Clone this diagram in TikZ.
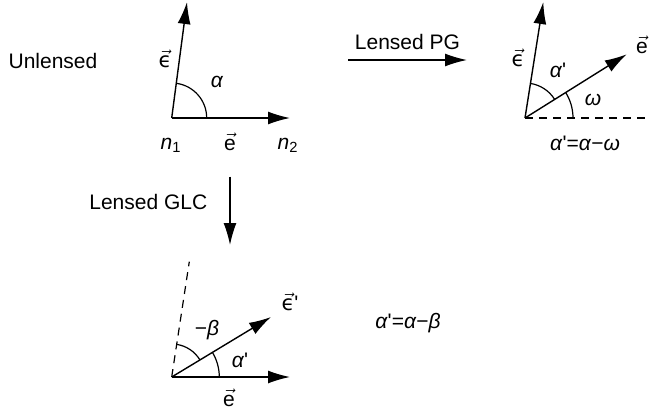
\documentclass[tikz,border=0pt]{standalone}
\usepackage{amsmath}
\usepackage{fontspec}
\setmainfont{Liberation Sans}
\newfontfamily\dejavu{DejaVu Sans}
\usetikzlibrary{arrows.meta,calc}
\newcommand{\vecl}[1]{\ensuremath{\vec{\mbox{#1}}}}
\newcommand{\veps}{{\dejavu ϵ}}
\newcommand{\gr}[1]{\textit{#1}}
\newcommand{\pr}{\textquotesingle}

\begin{document}
\begin{tikzpicture}[
  x=0.5pt, y=0.5pt,
  every node/.style={font=\fontsize{10.5}{12}\selectfont, inner sep=1pt},
  ar/.style={-{Latex[length=11pt,width=6.5pt]}, line width=0.7pt},
  dsh/.style={dashed, line width=0.6pt, dash pattern=on 4pt off 3pt},
  ang/.style={line width=0.6pt}
]
\useasboundingbox (0,0) rectangle (652,419);
% unlensed
\coordinate (o1) at (171.7,301);
\coordinate (eps1) at (187,417);
\coordinate (e1) at (290,301);
\draw[ar] (o1) -- (eps1);
\draw[ar] (o1) -- (e1);
\draw[ang] ($(o1)+(35,0)$) arc[start angle=0, end angle=82.5, radius=35];
\node (unl) at (53,358) {Unlensed};
\node (la1) at (217,337) {\gr{α}};
\node (le1) at (165,360) {\vecl{\veps}};
\node (n1) at (171,274) {\gr{n}\textsubscript{1}};
\node (lv1) at (230,277) {\vecl{e}};
\node (n2) at (288,274) {\gr{n}\textsubscript{2}};
% lensed PG
\coordinate (pga) at (348,359);
\coordinate (pgb) at (467,359);
\draw[ar] (pga) -- node[above=4pt] {Lensed PG} (pgb);
\coordinate (o2) at (525,301);
\coordinate (eps2) at (543.3,417);
\coordinate (e2) at (626.7,364.7);
\coordinate (h2) at (645,301);
\draw[ar] (o2) -- (eps2);
\draw[ar] (o2) -- (e2);
\draw[dsh] (o2) -- (h2);
\draw[ang] ($(o2)+(32.1:35)$) arc[start angle=32.1, end angle=81.1, radius=35];
\draw[ang] ($(o2)+(48,0)$) arc[start angle=0, end angle=32.1, radius=48];
\node (la2) at (558,349) {\gr{α}\pr};
\node (lw2) at (593,319) {\gr{ω}};
\node (le2) at (518,361) {\vecl{\veps}};
\node (lv2) at (642,374) {\vecl{e}};
\node (eq2) at (585,276) {\gr{α}\pr=\gr{α}−\gr{ω}};
% lensed GLC
\coordinate (glca) at (230,242.3);
\coordinate (glcb) at (230,174);
\draw[ar] (glca) -- node[left=10pt, yshift=4.5pt] {Lensed GLC} (glcb);
\coordinate (o3) at (171.7,42);
\coordinate (d3) at (189.3,157.3);
\coordinate (eps3) at (271,102);
\coordinate (e3) at (290,42);
\draw[dsh] (o3) -- (d3);
\draw[ar] (o3) -- (eps3);
\draw[ar] (o3) -- (e3);
\draw[ang] ($(o3)+(31.5:33)$) arc[start angle=31.5, end angle=81.3, radius=33];
\draw[ang] ($(o3)+(47.6,0)$) arc[start angle=0, end angle=31.5, radius=47.6];
\node (lb3) at (207,89) {−\gr{β}};
\node (la3) at (240,59) {\gr{α}\pr};
\node (le3) at (290,117.5) {\vecl{\veps}\pr};
\node (lv3) at (229,21) {\vecl{e}};
\node (eq3) at (408,96) {\gr{α}\pr=\gr{α}−\gr{β}};
\end{tikzpicture}
\end{document}
